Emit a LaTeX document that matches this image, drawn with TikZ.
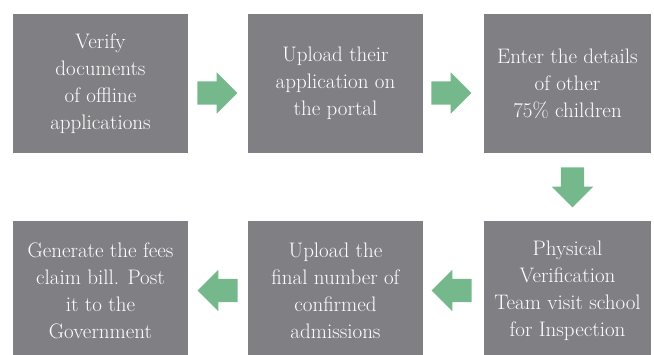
\documentclass[tikz,border=0pt]{standalone}
\usetikzlibrary{calc,shapes.arrows}
\definecolor{boxgray}{RGB}{128,128,132}
\definecolor{arrowgreen}{RGB}{116,184,140}

\begin{document}
\begin{tikzpicture}[x=1pt,y=-1pt,
  stepbox/.style={fill=boxgray,text=white,align=center,inner sep=0pt,
    minimum width=175pt,minimum height=139pt,font=\fontsize{21}{27}\selectfont},
  flowarrow/.style={single arrow,fill=arrowgreen,inner xsep=0pt,inner ysep=11.5pt,
    minimum height=40pt,single arrow head extend=9pt,anchor=tail}]
  \useasboundingbox (0,0) rectangle (654,354);
  % top row
  \node[stepbox] (verify) at (100.5,83.5) {Verify\\documents\\of offline\\applications};
  \node[stepbox] (upload) at (335.5,83.5) {Upload their\\application on\\the portal};
  \node[stepbox,minimum width=167pt] (enter) at (567.5,83.5) {Enter the details\\of other\\75\% children};
  % bottom row
  \node[stepbox,minimum width=167pt] (visit) at (567.5,290.5) {Physical\\Verification\\Team visit school\\for Inspection};
  \node[stepbox] (final) at (335.5,290.5) {Upload the\\final number of\\confirmed\\admissions};
  \node[stepbox] (claim) at (100.5,290.5) {Generate the fees\\claim bill. Post\\it to the\\Government};
  % arrows
  \node[flowarrow] (a1) at ($(verify.east)+(9,9.5)$) {};
  \node[flowarrow] (a2) at ($(upload.east)+(8,9.5)$) {};
  \node[flowarrow,rotate=-90] (a3) at ($(enter.south)+(5,14)$) {};
  \node[flowarrow,rotate=180] (a4) at ($(visit.west)+(-12,0)$) {};
  \node[flowarrow,rotate=180] (a5) at ($(final.west)+(-10,0)$) {};
\end{tikzpicture}
\end{document}
